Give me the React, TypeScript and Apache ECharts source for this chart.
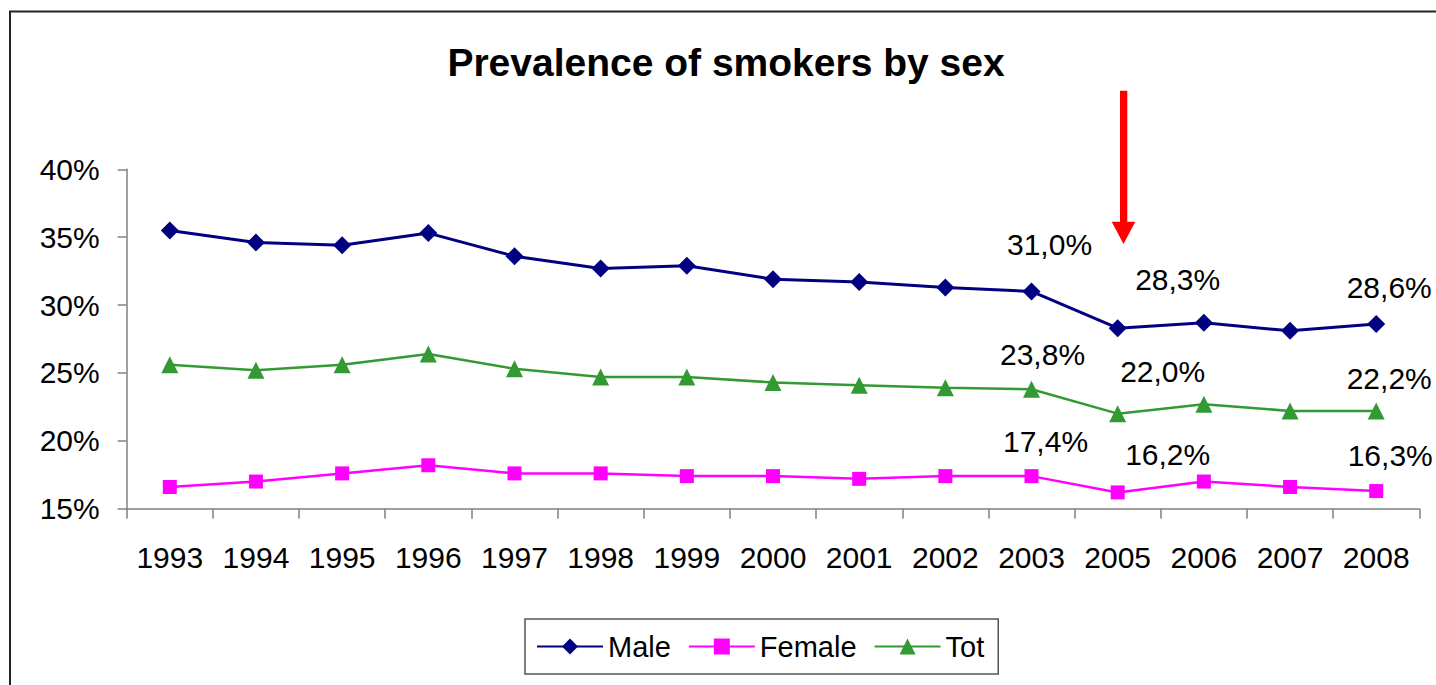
import React, { useEffect, useRef } from "react";
import * as echarts from "echarts";

const years = ["1993", "1994", "1995", "1996", "1997", "1998", "1999", "2000", "2001", "2002", "2003", "2005", "2006", "2007", "2008"];
const male = [35.5, 34.6, 34.4, 35.3, 33.6, 32.7, 32.9, 31.9, 31.7, 31.3, 31.0, 28.3, 28.7, 28.1, 28.6];
const female = [16.6, 17.0, 17.6, 18.2, 17.6, 17.6, 17.4, 17.4, 17.2, 17.4, 17.4, 16.2, 17.0, 16.6, 16.3];
const tot = [25.6, 25.2, 25.6, 26.4, 25.3, 24.7, 24.7, 24.3, 24.1, 23.9, 23.8, 22.0, 22.7, 22.2, 22.2];
const labelledIdx = [10, 11, 14];
const yTicks = { min: 15, max: 40, interval: 5 };

// label placement (styling, kept apart from the data)
const maleLabelOffsets = [[18, -47], [60, -49], [13, -37]];
const totLabelOffsets = [[11, -35], [45, -42], [13, -32]];
const femaleLabelOffsets = [[14, -35], [50, -38], [14, -36]];

const FONT = "'Liberation Sans', Arial, sans-serif";

function buildData(values: number[], offsets: number[][]) {
  return values.map((v, i) => {
    const k = labelledIdx.indexOf(i);
    if (k < 0) return v;
    return {
      value: v,
      label: {
        show: true,
        position: "inside",
        offset: offsets[k],
        formatter: (p: any) => p.value.toFixed(1).replace(".", ",") + "%",
        color: "#000",
        fontSize: 30,
        fontFamily: FONT,
      },
    };
  });
}

export default function App() {
  const ref = useRef<HTMLDivElement>(null);
  useEffect(() => {
    if (!ref.current) return;
    const chart = echarts.init(ref.current, undefined, { renderer: "svg" });
    const mkSeries = (name: string, data: number[], color: string, symbol: string, size: number, width: number, offs: number[][]) => ({
      name,
      type: "line",
      data: buildData(data, offs),
      symbol,
      symbolSize: size,
      showSymbol: true,
      lineStyle: { color, width },
      itemStyle: { color },
      emphasis: { disabled: true },
      z: 3,
    });
    chart.setOption({
      animation: false,
      backgroundColor: "#fff",
      title: {
        text: "Prevalence of smokers by sex",
        left: 721,
        textAlign: "center",
        top: 38,
        textStyle: { fontSize: 39, fontWeight: "bold", color: "#000", fontFamily: FONT },
      },
      grid: { left: 126.7, right: 16.7, top: 169.3, bottom: 176.3, containLabel: false },
      xAxis: {
        type: "category",
        data: years,
        boundaryGap: true,
        axisLine: { lineStyle: { color: "#808080", width: 1.5 } },
        axisTick: { show: true, length: 10, lineStyle: { color: "#808080", width: 1.5 } },
        axisLabel: { color: "#000", fontSize: 30, fontFamily: FONT, margin: 34, interval: 0 },
        splitLine: { show: false },
      },
      yAxis: {
        type: "value",
        min: yTicks.min,
        max: yTicks.max,
        interval: yTicks.interval,
        axisLine: { show: true, lineStyle: { color: "#808080", width: 1.5 } },
        axisTick: { show: true, length: 9, lineStyle: { color: "#808080", width: 1.5 } },
        axisLabel: { color: "#000", fontSize: 30, fontFamily: FONT, margin: 27, formatter: "{value}%" },
        splitLine: { show: false },
      },
      legend: {
        left: 525,
        top: 619,
        orient: "horizontal",
        itemWidth: 66,
        itemHeight: 20,
        itemGap: 17,
        padding: [13, 14, 13, 11],
        borderColor: "#555",
        borderWidth: 1.5,
        textStyle: { fontSize: 29, fontFamily: FONT, color: "#000" },
        data: ["Male", "Female", "Tot"],
      },
      series: [
        mkSeries("Male", male, "#000080", "diamond", 18, 3, maleLabelOffsets),
        mkSeries("Female", female, "#FF00FF", "rect", 14, 2.5, femaleLabelOffsets),
        mkSeries("Tot", tot, "#339933", "triangle", 17, 2.5, totLabelOffsets),
      ],
      graphic: [
        { type: "line", shape: { x1: 9, y1: 11.5, x2: 1436, y2: 11.5 }, style: { stroke: "#222", lineWidth: 2 } },
        { type: "line", shape: { x1: 10, y1: 11, x2: 10, y2: 685 }, style: { stroke: "#222", lineWidth: 2 } },
        { type: "rect", shape: { x: 1120, y: 90.7, width: 7.3, height: 132 }, style: { fill: "#FF0000" } },
        { type: "polygon", shape: { points: [[1111.7, 221.7], [1135.3, 221.7], [1123.5, 244]] }, style: { fill: "#FF0000" } },
      ],
    });
    return () => chart.dispose();
  }, []);
  return <div ref={ref} style={{ position: "fixed", left: 0, top: 0, width: 1436, height: 685, background: "#fff" }} />;
}
